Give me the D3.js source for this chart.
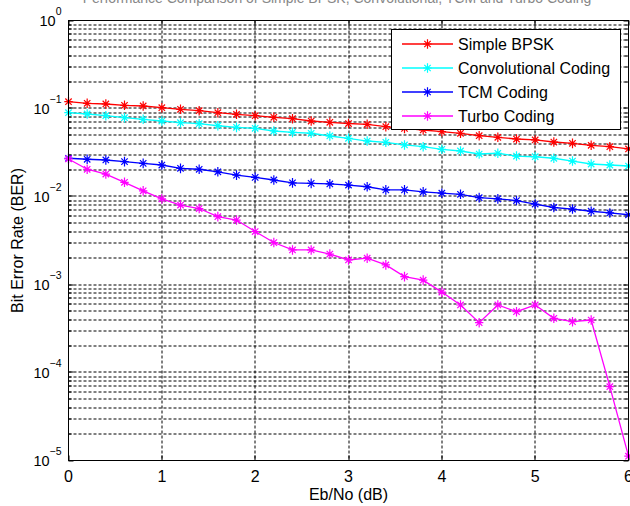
<!DOCTYPE html>
<html>
<head>
<meta charset="utf-8">
<script src="https://cdn.jsdelivr.net/npm/d3@7"></script>
<style>
  body { margin: 0; background: #fff; }
  svg { display: block; font-family: Arial, "Liberation Sans", sans-serif; }
</style>
</head>
<body>
<div id="container"></div>
<script>
// Eb/No values (dB)
const ebno = [0, 0.2, 0.4, 0.6, 0.8, 1, 1.2, 1.4, 1.6, 1.8, 2, 2.2, 2.4, 2.6, 2.8, 3,
              3.2, 3.4, 3.6, 3.8, 4, 4.2, 4.4, 4.6, 4.8, 5, 5.2, 5.4, 5.6, 5.8, 6];

// BER
const bpsk = [0.1195, 0.1146, 0.1125, 0.1088, 0.1068, 0.1021, 0.0979, 0.0944, 0.0896, 0.0859, 0.0828,
              0.0794, 0.0766, 0.0721, 0.0697, 0.0675, 0.0661, 0.0621, 0.0593, 0.0570, 0.0545,
              0.0523, 0.0491, 0.0471, 0.0450, 0.0439, 0.0416, 0.0402, 0.0382, 0.0368, 0.0347];
const conv = [0.0896, 0.0866, 0.0828, 0.0786, 0.0754, 0.0721, 0.0690, 0.0672, 0.0637, 0.0611, 0.0596,
              0.0555, 0.0536, 0.0523, 0.0487, 0.0458, 0.0427, 0.0413, 0.0385, 0.0368, 0.0344,
              0.0329, 0.0304, 0.0310, 0.0288, 0.0283, 0.0272, 0.0253, 0.0234, 0.0228, 0.0222];
const tcm = [0.0272, 0.0265, 0.0260, 0.0249, 0.0238, 0.0228, 0.0209, 0.0204, 0.0191, 0.0175, 0.0165,
             0.0154, 0.0143, 0.0141, 0.0139, 0.0135, 0.0129, 0.0119, 0.0119, 0.0113, 0.0109,
             0.0106, 0.0097, 0.0094, 0.0090, 0.0082, 0.0075, 0.0072, 0.0068, 0.0065, 0.0062];
const turbo = [0.0267, 0.0204, 0.0180, 0.0145, 0.0116, 0.0094, 0.0080, 0.0073, 0.0059, 0.0054, 0.0040,
               0.0030, 0.00247, 0.00247, 0.00222, 0.00190, 0.00199, 0.00167, 0.00123, 0.00112, 0.00082,
               0.000585, 0.000368, 0.000585, 0.000491, 0.000585, 0.000413, 0.000378, 0.000395, 0.0000690, 0.0000112];

const seriesNames = ["Simple BPSK", "Convolutional Coding", "TCM Coding", "Turbo Coding"];
const seriesColors = ["#ff0000", "#00ffff", "#0000ff", "#ff00ff"];
const xTicks = [0, 1, 2, 3, 4, 5, 6];
const yExponents = [0, -1, -2, -3, -4, -5];
const titleText = "Performance Comparison of Simple BPSK, Convolutional, TCM and Turbo Coding";

const allSeries = [bpsk, conv, tcm, turbo];

const W = 630, H = 506;
const margin = { top: 20.5, right: 1.5, bottom: 45.5, left: 68.5 },
      width = W - margin.left - margin.right,
      height = H - margin.top - margin.bottom;

const svg = d3.select("#container")
  .append("svg")
  .attr("width", W)
  .attr("height", H);

// title: the figure shows only its bottom edge, the rest is cropped away
svg.append("text")
  .attr("x", 337)
  .attr("y", 2.5)
  .attr("text-anchor", "middle")
  .style("font-size", "14px")
  .attr("fill", "#888")
  .text(titleText);

const g = svg.append("g")
  .attr("transform", `translate(${margin.left},${margin.top})`);

const xScale = d3.scaleLinear().domain([0, 6]).range([0, width]);
const yScale = d3.scaleLog().domain([1e-5, 1]).range([height, 0]);

// log minor ticks
const majorY = yExponents.map(e => Math.pow(10, e));
const minorY = [];
yExponents.slice(1).forEach(e => {
  for (let k = 2; k <= 9; k++) minorY.push(k * Math.pow(10, e));
});

// grid
const gridDash = "3,2";
g.append("g")
  .selectAll("line")
  .data(majorY.concat(minorY).filter(v => v > 1e-5 && v < 1))
  .join("line")
  .attr("x1", 0).attr("x2", width)
  .attr("y1", d => Math.round(yScale(d) - 0.5) + 0.5)
  .attr("y2", d => Math.round(yScale(d) - 0.5) + 0.5)
  .attr("stroke", "#000").attr("stroke-width", 1)
  .attr("stroke-dasharray", gridDash);

g.append("g")
  .selectAll("line")
  .data(xTicks.filter(v => v > 0 && v < 6))
  .join("line")
  .attr("x1", d => Math.round(xScale(d) - 0.5) + 0.5)
  .attr("x2", d => Math.round(xScale(d) - 0.5) + 0.5)
  .attr("y1", 0).attr("y2", height)
  .attr("stroke", "#000").attr("stroke-width", 1)
  .attr("stroke-dasharray", gridDash);

// inward ticks on all four sides
const tickG = g.append("g").attr("stroke", "#000").attr("stroke-width", 1);
majorY.concat(minorY).forEach(v => {
  const yy = Math.round(yScale(v) - 0.5) + 0.5;
  const len = majorY.includes(v) ? 5 : 3;
  tickG.append("line").attr("x1", 0).attr("x2", len).attr("y1", yy).attr("y2", yy);
  tickG.append("line").attr("x1", width - len).attr("x2", width).attr("y1", yy).attr("y2", yy);
});
xTicks.forEach(v => {
  const xx = Math.round(xScale(v) - 0.5) + 0.5;
  tickG.append("line").attr("x1", xx).attr("x2", xx).attr("y1", height).attr("y2", height - 5);
  tickG.append("line").attr("x1", xx).attr("x2", xx).attr("y1", 0).attr("y2", 5);
});

// x tick labels
g.append("g")
  .selectAll("text")
  .data(xTicks)
  .join("text")
  .attr("x", d => xScale(d))
  .attr("y", height + 21.5)
  .attr("text-anchor", "middle")
  .style("font-size", "16px")
  .text(d => d);

// y tick labels 10^e
const yLab = g.append("g")
  .selectAll("text")
  .data(yExponents)
  .join("text")
  .attr("x", -7)
  .attr("y", d => yScale(Math.pow(10, d)) + 5.5)
  .attr("text-anchor", "end")
  .style("font-size", "14.5px");
yLab.append("tspan").text("10");
yLab.append("tspan")
  .attr("dy", -11.5)
  .style("font-size", "10.5px")
  .text(d => d === 0 ? "0" : "\u2212" + Math.abs(d));

// series lines + '*' markers
const line = d3.line()
  .x((d, i) => xScale(ebno[i]))
  .y(d => yScale(d));

function starPath(cx, cy) {
  const p = d3.path();
  const rv = 4.8, rh = 4.2, rd = 3.2;
  p.moveTo(cx, cy - rv); p.lineTo(cx, cy + rv);
  p.moveTo(cx - rh, cy); p.lineTo(cx + rh, cy);
  p.moveTo(cx - rd, cy - rd); p.lineTo(cx + rd, cy + rd);
  p.moveTo(cx - rd, cy + rd); p.lineTo(cx + rd, cy - rd);
  return p.toString();
}

allSeries.forEach((s, k) => {
  g.append("path")
    .datum(s)
    .attr("fill", "none")
    .attr("stroke", seriesColors[k])
    .attr("stroke-width", 1.3)
    .attr("d", line);

  g.append("g")
    .selectAll("path")
    .data(s)
    .join("path")
    .attr("d", (d, i) => starPath(xScale(ebno[i]), yScale(d)))
    .attr("fill", "none")
    .attr("stroke", seriesColors[k])
    .attr("stroke-width", 1.2);
});

// frame
g.append("rect")
  .attr("x", 0).attr("y", 0)
  .attr("width", width).attr("height", height)
  .attr("fill", "none")
  .attr("stroke", "#000")
  .attr("stroke-width", 1);

// axis labels
svg.append("text")
  .attr("x", margin.left + width / 2)
  .attr("y", 500)
  .attr("text-anchor", "middle")
  .style("font-size", "16px")
  .text("Eb/No (dB)");

svg.append("text")
  .attr("transform", `translate(22.5,${margin.top + height / 2}) rotate(-90)`)
  .attr("text-anchor", "middle")
  .style("font-size", "16px")
  .text("Bit Error Rate (BER)");

// legend
const legend = svg.append("g");
legend.append("rect")
  .attr("x", 391.5).attr("y", 29.5)
  .attr("width", 229).attr("height", 100)
  .attr("fill", "#fff")
  .attr("stroke", "#000")
  .attr("stroke-width", 1);

seriesNames.forEach((name, k) => {
  const ly = 44 + k * 24;
  legend.append("line")
    .attr("x1", 402).attr("x2", 453)
    .attr("y1", ly).attr("y2", ly)
    .attr("stroke", seriesColors[k])
    .attr("stroke-width", 1.3);
  legend.append("path")
    .attr("d", starPath(427.5, ly))
    .attr("fill", "none")
    .attr("stroke", seriesColors[k])
    .attr("stroke-width", 1.2);
  legend.append("text")
    .attr("x", 458)
    .attr("y", ly + 5.5)
    .style("font-size", "16px")
    .text(name);
});
</script>
</body>
</html>
